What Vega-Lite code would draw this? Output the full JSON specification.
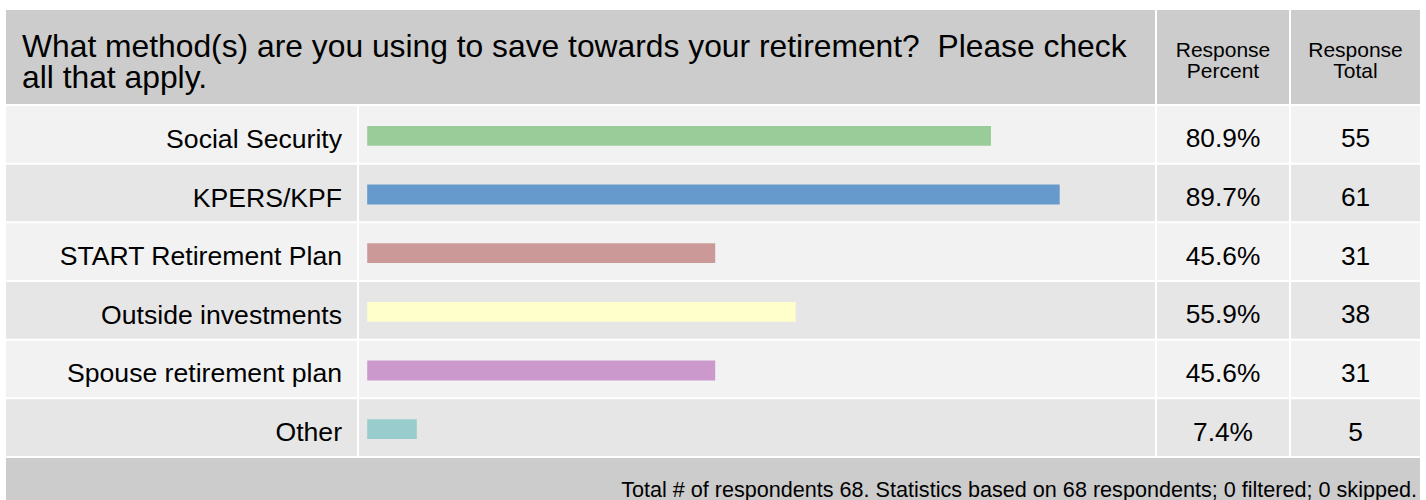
{
  "$schema": "https://vega.github.io/schema/vega-lite/v6.json",
  "padding": {"left": 6, "top": 10, "right": 6, "bottom": 0},
  "background": "white",
  "config": {
    "view": {"stroke": null},
    "concat": {"spacing": 2},
    "font": "Liberation Sans",
    "text": {"font": "Liberation Sans", "color": "#000000"}
  },
  "datasets": {
    "rows": [
      {"row": 1, "method": "Social Security", "pct": 80.9, "pctLabel": "80.9%", "total": 55},
      {"row": 2, "method": "KPERS/KPF", "pct": 89.7, "pctLabel": "89.7%", "total": 61},
      {"row": 3, "method": "START Retirement Plan", "pct": 45.6, "pctLabel": "45.6%", "total": 31},
      {"row": 4, "method": "Outside investments", "pct": 55.9, "pctLabel": "55.9%", "total": 38},
      {"row": 5, "method": "Spouse retirement plan", "pct": 45.6, "pctLabel": "45.6%", "total": 31},
      {"row": 6, "method": "Other", "pct": 7.4, "pctLabel": "7.4%", "total": 5}
    ]
  },
  "vconcat": [
    {
      "hconcat": [
        {
          "width": 1149, "height": 94,
          "view": {"fill": "#cccccc", "stroke": null},
          "data": {"values": [{}]},
          "mark": {"type": "text", "align": "left", "baseline": "alphabetic", "fontSize": 31.8, "lineHeight": 31, "dx": 16},
          "encoding": {
            "x": {"datum": 0, "scale": {"domain": [0, 1]}, "axis": null},
            "text": {"value": ["What method(s) are you using to save towards your retirement?\u00a0 Please check", "all that apply."]}
          }
        },
        {
          "width": 132, "height": 94,
          "view": {"fill": "#cccccc", "stroke": null},
          "data": {"values": [{}]},
          "mark": {"type": "text", "align": "center", "baseline": "alphabetic", "fontSize": 21, "lineHeight": 21},
          "encoding": {"text": {"value": ["Response", "Percent"]}}
        },
        {
          "width": 129, "height": 94,
          "view": {"fill": "#cccccc", "stroke": null},
          "data": {"values": [{}]},
          "mark": {"type": "text", "align": "center", "baseline": "alphabetic", "fontSize": 21, "lineHeight": 21},
          "encoding": {"text": {"value": ["Response", "Total"]}}
        }
      ]
    },
    {
      "hconcat": [
        {
          "width": 351, "height": 350,
          "data": {"name": "rows"},
          "layer": [
            {
              "mark": "rect",
              "encoding": {
                "y": {"field": "method", "type": "nominal", "sort": null, "scale": {"paddingInner": 0.034, "paddingOuter": 0}, "axis": null},
                "color": {"condition": {"test": "datum.row % 2 === 1", "value": "#f2f2f2"}, "value": "#e6e6e6"}
              }
            },
            {
              "mark": {"type": "text", "align": "right", "baseline": "alphabetic", "fontSize": 26.6, "dx": -15, "dy": 13.5},
              "encoding": {
                "y": {"field": "method", "type": "nominal", "sort": null},
                "x": {"datum": 1, "scale": {"domain": [0, 1]}, "axis": null},
                "text": {"field": "method"}
              }
            }
          ]
        },
        {
          "width": 796, "height": 350,
          "data": {"name": "rows"},
          "layer": [
            {
              "mark": "rect",
              "encoding": {
                "y": {"field": "method", "type": "nominal", "sort": null, "scale": {"paddingInner": 0.034, "paddingOuter": 0}, "axis": null},
                "color": {"condition": {"test": "datum.row % 2 === 1", "value": "#f2f2f2"}, "value": "#e6e6e6"}
              }
            },
            {
              "mark": {"type": "bar", "height": {"band": 0.35}, "yOffset": 1.5},
              "encoding": {
                "y": {"field": "method", "type": "nominal", "sort": null},
                "x": {"field": "pct", "type": "quantitative", "scale": {"domain": [0, 101.9], "zero": false, "nice": false}, "axis": null},
                "x2": {"datum": 1.05},
                "color": {
                  "field": "method", "type": "nominal",
                  "scale": {
                    "domain": ["Social Security", "KPERS/KPF", "START Retirement Plan", "Outside investments", "Spouse retirement plan", "Other"],
                    "range": ["#99cc99", "#6699cc", "#cc9999", "#ffffcc", "#cc99cc", "#99cccc"]
                  },
                  "legend": null
                }
              }
            }
          ]
        },
        {
          "width": 132, "height": 350,
          "data": {"name": "rows"},
          "layer": [
            {
              "mark": "rect",
              "encoding": {
                "y": {"field": "method", "type": "nominal", "sort": null, "scale": {"paddingInner": 0.034, "paddingOuter": 0}, "axis": null},
                "color": {"condition": {"test": "datum.row % 2 === 1", "value": "#f2f2f2"}, "value": "#e6e6e6"}
              }
            },
            {
              "mark": {"type": "text", "align": "center", "baseline": "alphabetic", "fontSize": 26.3, "dy": 13},
              "encoding": {
                "y": {"field": "method", "type": "nominal", "sort": null},
                "text": {"field": "pctLabel"}
              }
            }
          ]
        },
        {
          "width": 129, "height": 350,
          "data": {"name": "rows"},
          "layer": [
            {
              "mark": "rect",
              "encoding": {
                "y": {"field": "method", "type": "nominal", "sort": null, "scale": {"paddingInner": 0.034, "paddingOuter": 0}, "axis": null},
                "color": {"condition": {"test": "datum.row % 2 === 1", "value": "#f2f2f2"}, "value": "#e6e6e6"}
              }
            },
            {
              "mark": {"type": "text", "align": "center", "baseline": "alphabetic", "fontSize": 26.3, "dy": 13},
              "encoding": {
                "y": {"field": "method", "type": "nominal", "sort": null},
                "text": {"field": "total"}
              }
            }
          ]
        }
      ]
    },
    {
      "width": 1414, "height": 42,
      "view": {"fill": "#cccccc", "stroke": null},
      "data": {"values": [{"note": "Total # of respondents 68. Statistics based on 68 respondents; 0 filtered; 0 skipped."}]},
      "mark": {"type": "text", "align": "right", "baseline": "alphabetic", "fontSize": 21.6, "dx": -3, "dy": 17.5},
      "encoding": {
        "x": {"datum": 1, "scale": {"domain": [0, 1]}, "axis": null},
        "text": {"field": "note"}
      }
    }
  ]
}
